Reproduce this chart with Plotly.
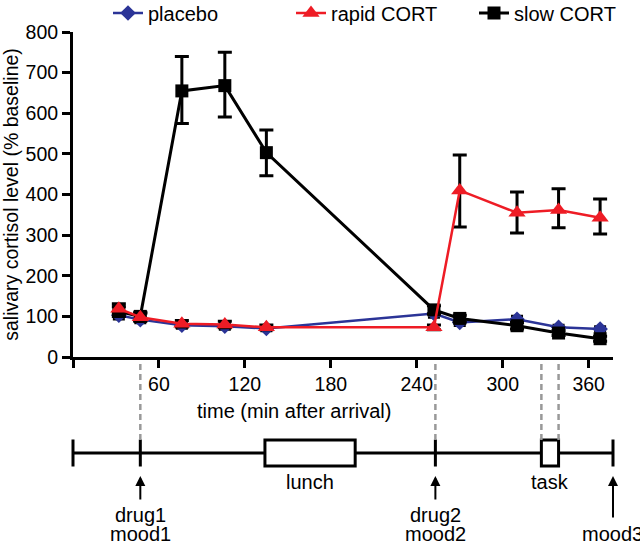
import plotly.graph_objects as go

# ---- data ----
times = [32, 47, 76, 106, 135, 252, 270, 310, 339, 368]

placebo = [103, 92, 78, 76, 70, 107, 85, 93, 73, 69]
placebo_err = [10, 8, 8, 8, 6, 10, 8, 8, 6, 6]

rapid = [119, 98, 82, 80, 73, 73, 410, 355, 362, 343]
rapid_err_plus = [12, 10, 8, 8, 6, 6, 87, 51, 52, 46]
rapid_err_minus = [12, 10, 8, 8, 6, 6, 90, 50, 44, 40]

slow = [112, 100, 655, 668, 503, 116, 95, 77, 59, 45]
slow_err_plus = [12, 10, 85, 82, 56, 10, 8, 8, 6, 6]
slow_err_minus = [12, 10, 80, 77, 57, 10, 8, 8, 6, 6]

x_tickvals = [0, 60, 120, 180, 240, 300, 360]
x_ticktext = ["", "60", "120", "180", "240", "300", "360"]
y_tickvals = [0, 100, 200, 300, 400, 500, 600, 700, 800]

# timeline events (min after arrival)
timeline_start, timeline_end = 0, 377
event_ticks = [47, 253, 377]
event_line1 = ["drug1", "drug2", ""]
event_line2 = ["mood1", "mood2", "mood3"]
lunch = (134, 197)
task = (327, 339)
dashed_times = [47, 253, 327, 339]

FONT = "Liberation Sans, Arial, sans-serif"

fig = go.Figure()

fig.add_trace(go.Scatter(
    x=times, y=placebo, name="placebo", mode="lines+markers",
    line=dict(color="#2B3497", width=2.5),
    marker=dict(symbol="diamond", size=12, color="#2B3497"),
    error_y=dict(type="data", array=placebo_err, color="black", thickness=2.5, width=6),
    legendrank=1,
))
fig.add_trace(go.Scatter(
    x=times, y=slow, name="slow CORT", mode="lines+markers",
    line=dict(color="black", width=3),
    marker=dict(symbol="square", size=13, color="black"),
    error_y=dict(type="data", array=slow_err_plus, arrayminus=slow_err_minus,
                 color="black", thickness=3, width=7),
    legendrank=3,
))
fig.add_trace(go.Scatter(
    x=times, y=rapid, name="rapid CORT", mode="lines+markers",
    line=dict(color="#EE1C25", width=2.5),
    marker=dict(symbol="triangle-up", size=15, color="#EE1C25"),
    error_y=dict(type="data", array=rapid_err_plus, arrayminus=rapid_err_minus,
                 color="black", thickness=3, width=7),
    legendrank=2,
))

W, H = 640, 542
px_per_min = (613 - 73) / 377.0

fig.update_layout(
    width=W, height=H,
    template="none",
    paper_bgcolor="white", plot_bgcolor="white",
    margin=dict(l=0, r=0, t=0, b=0, autoexpand=False),
    font=dict(family=FONT, size=20, color="black"),
    showlegend=True,
    legend=dict(orientation="h", x=108 / W, y=(H - 13) / H, xanchor="left", yanchor="middle",
                font=dict(size=20), entrywidth=138, entrywidthmode="pixels",
                bgcolor="rgba(0,0,0,0)", borderwidth=0, tracegroupgap=0),
    xaxis=dict(domain=[73 / W, 613 / W], range=[0, 377], anchor="y",
               tickvals=x_tickvals, ticktext=x_ticktext,
               showline=True, linecolor="black", linewidth=3,
               ticks="outside", ticklen=8, tickwidth=3, tickcolor="black",
               showgrid=False, zeroline=False, tickfont=dict(size=19.5)),
    yaxis=dict(domain=[(H - 357) / H, (H - 32) / H], range=[0, 800], anchor="x",
               tickvals=y_tickvals,
               showline=True, linecolor="black", linewidth=3,
               ticks="outside", ticklen=8, tickwidth=3, tickcolor="black",
               showgrid=False, zeroline=False, tickfont=dict(size=19.5),
               title=dict(text="salivary cortisol level (% baseline)",
                          font=dict(size=19.5), standoff=4)),
    xaxis2=dict(domain=[(73 - 5 * px_per_min) / W, (613 + 5 * px_per_min) / W],
                range=[-5, 382], anchor="y2", visible=False),
    yaxis2=dict(domain=[(H - 480) / H, (H - 426) / H], range=[-1, 1],
                anchor="x2", visible=False),
)

shapes = []
shapes.append(dict(type="line", xref="x2", yref="y2", x0=timeline_start, x1=timeline_end,
                   y0=0, y1=0, line=dict(color="black", width=3)))
for t in [timeline_start] + event_ticks:
    shapes.append(dict(type="line", xref="x2", yref="y2", x0=t, x1=t, y0=-0.5, y1=0.5,
                       line=dict(color="black", width=3)))
for (a, b) in [lunch, task]:
    shapes.append(dict(type="rect", xref="x2", yref="y2", x0=a, x1=b, y0=-0.48, y1=0.48,
                       line=dict(color="black", width=3), fillcolor="white"))
for t in dashed_times:
    shapes.append(dict(type="line", xref="x", yref="paper", x0=t, x1=t,
                       y0=(H - 440) / H, y1=(H - 363) / H,
                       line=dict(color="#999999", width=2.5, dash="6px,4px")))
fig.update_layout(shapes=shapes)

annotations = []
annotations.append(dict(text="time (min after arrival)", xref="paper", yref="paper",
                        x=294 / W, y=(H - 411) / H, showarrow=False,
                        font=dict(size=20), xanchor="center", yanchor="middle"))
annotations.append(dict(text="lunch", xref="x2", yref="paper", x=sum(lunch) / 2,
                        y=(H - 482) / H, showarrow=False, font=dict(size=20),
                        yanchor="middle"))
annotations.append(dict(text="task", xref="x2", yref="paper", x=sum(task) / 2,
                        y=(H - 482) / H, showarrow=False, font=dict(size=20),
                        yanchor="middle"))
for t, l1, l2 in zip(event_ticks, event_line1, event_line2):
    long_arrow = (l1 == "")
    annotations.append(dict(text="", xref="x2", yref="paper", x=t, y=(H - 476) / H,
                            showarrow=True, arrowhead=2, arrowsize=1, arrowwidth=2,
                            arrowcolor="black", ax=0, ay=43 if long_arrow else 25))
    if l1:
        annotations.append(dict(text=l1, xref="x2", yref="paper", x=t, y=(H - 515) / H,
                                showarrow=False, font=dict(size=20), yanchor="middle"))
    annotations.append(dict(text=l2, xref="x2", yref="paper", x=t, y=(H - 534) / H,
                            showarrow=False, font=dict(size=20), yanchor="middle"))
fig.update_layout(annotations=annotations)

fig.write_html(
    "out.html",
    config={"displayModeBar": False},
    post_script="document.body.style.margin='0';document.body.style.padding='0';",
)
